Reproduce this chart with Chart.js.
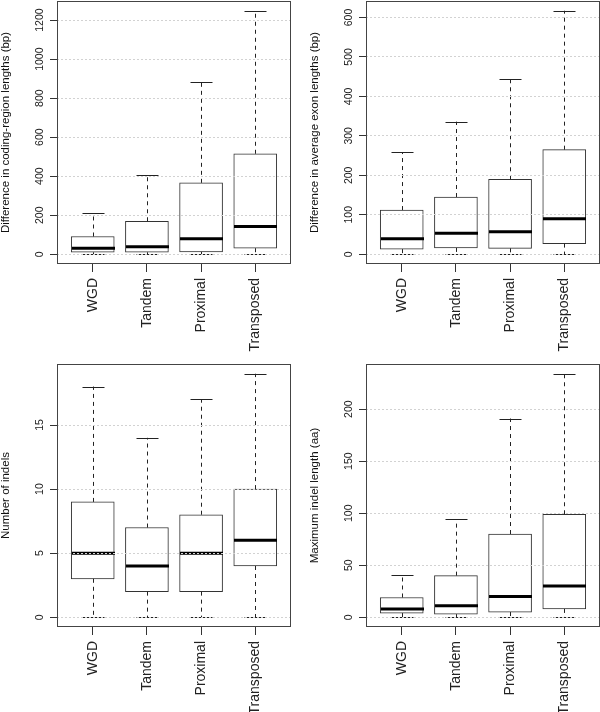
<!DOCTYPE html>
<html>
<head>
<meta charset="utf-8">
<script src="https://cdn.jsdelivr.net/npm/chart.js@4/dist/chart.umd.min.js"></script>
<style>
    html, body { margin: 0; padding: 0; background: #fff; }
    #wrap { position: relative; width: 600px; height: 712px; overflow: hidden; }
    canvas { position: absolute; }
</style>
</head>
<body>
<div id="wrap">
    <canvas id="coding" width="300" height="356" style="left:0;top:0"></canvas>
    <canvas id="exon" width="300" height="356" style="left:300px;top:0"></canvas>
    <canvas id="indels" width="300" height="356" style="left:0;top:356px"></canvas>
    <canvas id="indelLen" width="300" height="356" style="left:300px;top:356px"></canvas>
</div>
<script>
// categories shared by all four panels
const categories = ['WGD', 'Tandem', 'Proximal', 'Transposed'];

// difference in coding-region lengths (bp)
const codingMin = [0, 0, 0, 0];
const codingQ1 = [10, 10, 12, 31];
const codingMedian = [31, 39, 80, 142];
const codingQ3 = [91, 169, 366, 515];
const codingMax = [212, 407, 882, 1248];
const codingTicks = [0, 200, 400, 600, 800, 1000, 1200];

// difference in average exon lengths (bp)
const exonMin = [0, 0, 0, 0];
const exonQ1 = [13, 16, 15, 27];
const exonMedian = [39, 53, 57, 90];
const exonQ3 = [112, 145, 190, 265];
const exonMax = [259, 336, 443, 617];
const exonTicks = [0, 100, 200, 300, 400, 500, 600];

// number of indels
const indelMin = [0, 0, 0, 0];
const indelQ1 = [3, 2, 2, 4];
const indelMedian = [5, 4, 5, 6];
const indelQ3 = [9, 7, 8, 10];
const indelMax = [18, 14, 17, 19];
const indelTicks = [0, 5, 10, 15];

// maximum indel length (aa)
const lenMin = [0, 0, 0, 0];
const lenQ1 = [4, 3, 5, 8];
const lenMedian = [8, 11, 20, 30];
const lenQ3 = [19, 40, 80, 99];
const lenMax = [41, 94, 191, 234];
const lenTicks = [0, 50, 100, 150, 200];

Chart.defaults.font.family = "'Liberation Sans', Arial, Helvetica, sans-serif";

function makeBoxChart(canvasId, frame, stats, yRange, yTicks, yTitle) {
    const canvas = document.getElementById(canvasId);

    // whiskers, caps, medians, frame and y labels
    const boxDecor = {
        id: 'boxDecor',
        afterDatasetsDraw(chart) {
            const ctx = chart.ctx;
            const xs = chart.scales.x;
            const ys = chart.scales.y;
            ctx.save();
            categories.forEach((cat, i) => {
                const cx = Math.round(xs.getPixelForValue(i + 1)) + 0.5;
                const pMin = ys.getPixelForValue(stats.min[i]);
                const pQ1 = ys.getPixelForValue(stats.q1[i]);
                const pQ3 = ys.getPixelForValue(stats.q3[i]);
                const pMax = ys.getPixelForValue(stats.max[i]);
                const pMed = ys.getPixelForValue(stats.median[i]);

                ctx.strokeStyle = '#222';
                ctx.lineWidth = 1;
                ctx.setLineDash([4, 4]);
                ctx.beginPath();
                ctx.moveTo(cx, pQ3);
                ctx.lineTo(cx, pMax);
                ctx.moveTo(cx, pQ1);
                ctx.lineTo(cx, pMin);
                ctx.stroke();

                ctx.setLineDash([]);
                ctx.beginPath();
                ctx.moveTo(cx - 11, Math.round(pMax) + 0.5);
                ctx.lineTo(cx + 11, Math.round(pMax) + 0.5);
                ctx.moveTo(cx - 11, Math.round(pMin) + 0.5);
                ctx.lineTo(cx + 11, Math.round(pMin) + 0.5);
                ctx.stroke();

                ctx.strokeStyle = '#000';
                ctx.lineWidth = 3;
                ctx.beginPath();
                ctx.moveTo(cx - 21.5, pMed);
                ctx.lineTo(cx + 21.5, pMed);
                ctx.stroke();
            });
            ctx.restore();
        },
        afterDraw(chart) {
            const ctx = chart.ctx;
            const area = chart.chartArea;
            const ys = chart.scales.y;
            ctx.save();
            ctx.strokeStyle = '#444';
            ctx.lineWidth = 1;
            ctx.strokeRect(area.left + 0.5, area.top + 0.5, area.right - area.left - 1, area.bottom - area.top - 1);

            ctx.fillStyle = '#222';
            ctx.font = "10.5px 'Liberation Sans', Arial, sans-serif";
            ctx.textAlign = 'center';
            ctx.textBaseline = 'middle';
            yTicks.forEach(v => {
                ctx.save();
                ctx.translate(area.left - 17, ys.getPixelForValue(v));
                ctx.rotate(-Math.PI / 2);
                ctx.fillText(String(v), 0, 0);
                ctx.restore();
            });
            ctx.restore();
        }
    };

    return new Chart(canvas, {
        type: 'bar',
        data: {
            datasets: [{
                data: categories.map((c, i) => ({ x: i + 1, y: [stats.q1[i], stats.q3[i]] })),
                backgroundColor: '#fff',
                borderColor: '#333',
                borderWidth: 1,
                borderSkipped: false,
                barThickness: 43
            }]
        },
        options: {
            responsive: false,
            animation: false,
            layout: { padding: { top: frame.top, right: canvas.width - frame.right, left: 0, bottom: 0 } },
            plugins: {
                legend: { display: false },
                tooltip: { enabled: false }
            },
            scales: {
                x: {
                    type: 'linear',
                    min: 0.34,
                    max: 4.66,
                    offset: false,
                    afterBuildTicks: s => { s.ticks = categories.map((c, i) => ({ value: i + 1 })); },
                    afterFit: s => { s.height = canvas.height - frame.bottom; },
                    ticks: {
                        autoSkip: false,
                        minRotation: 90,
                        maxRotation: 90,
                        padding: 6,
                        color: '#222',
                        font: { size: 14 },
                        callback: v => categories[v - 1]
                    },
                    grid: { drawOnChartArea: false, drawTicks: true, tickLength: 8, tickColor: '#333', offset: false },
                    border: { display: false }
                },
                y: {
                    type: 'linear',
                    min: yRange[0],
                    max: yRange[1],
                    afterBuildTicks: s => { s.ticks = yTicks.map(v => ({ value: v })); },
                    afterFit: s => { s.width = frame.left; },
                    ticks: { display: false },
                    // grid on top of the boxes, like abline() after boxplot()
                    grid: { z: 1, color: '#d2d2d2', lineWidth: 1, drawTicks: true, tickLength: 7, tickColor: '#333', tickBorderDash: [] },
                    border: { display: false, dash: [2, 2] },
                    title: {
                        display: true,
                        text: yTitle,
                        color: '#111',
                        font: { size: 11.5 },
                        padding: { top: frame.left - 58, bottom: 0 }
                    }
                }
            }
        },
        plugins: [boxDecor]
    });
}

makeBoxChart('coding', { left: 57, right: 291, top: 1, bottom: 264 },
    { min: codingMin, q1: codingQ1, median: codingMedian, q3: codingQ3, max: codingMax },
    [-50, 1298], codingTicks, 'Difference in coding-region lengths (bp)');

makeBoxChart('exon', { left: 66, right: 300, top: 1, bottom: 264 },
    { min: exonMin, q1: exonQ1, median: exonMedian, q3: exonQ3, max: exonMax },
    [-24.7, 641.7], exonTicks, 'Difference in average exon lengths (bp)');

makeBoxChart('indels', { left: 57, right: 291, top: 8, bottom: 271 },
    { min: indelMin, q1: indelQ1, median: indelMedian, q3: indelQ3, max: indelMax },
    [-0.76, 19.76], indelTicks, 'Number of indels');

makeBoxChart('indelLen', { left: 66, right: 300, top: 8, bottom: 271 },
    { min: lenMin, q1: lenQ1, median: lenMedian, q3: lenQ3, max: lenMax },
    [-9.36, 243.4], lenTicks, 'Maximum indel length (aa)');
</script>
</body>
</html>
